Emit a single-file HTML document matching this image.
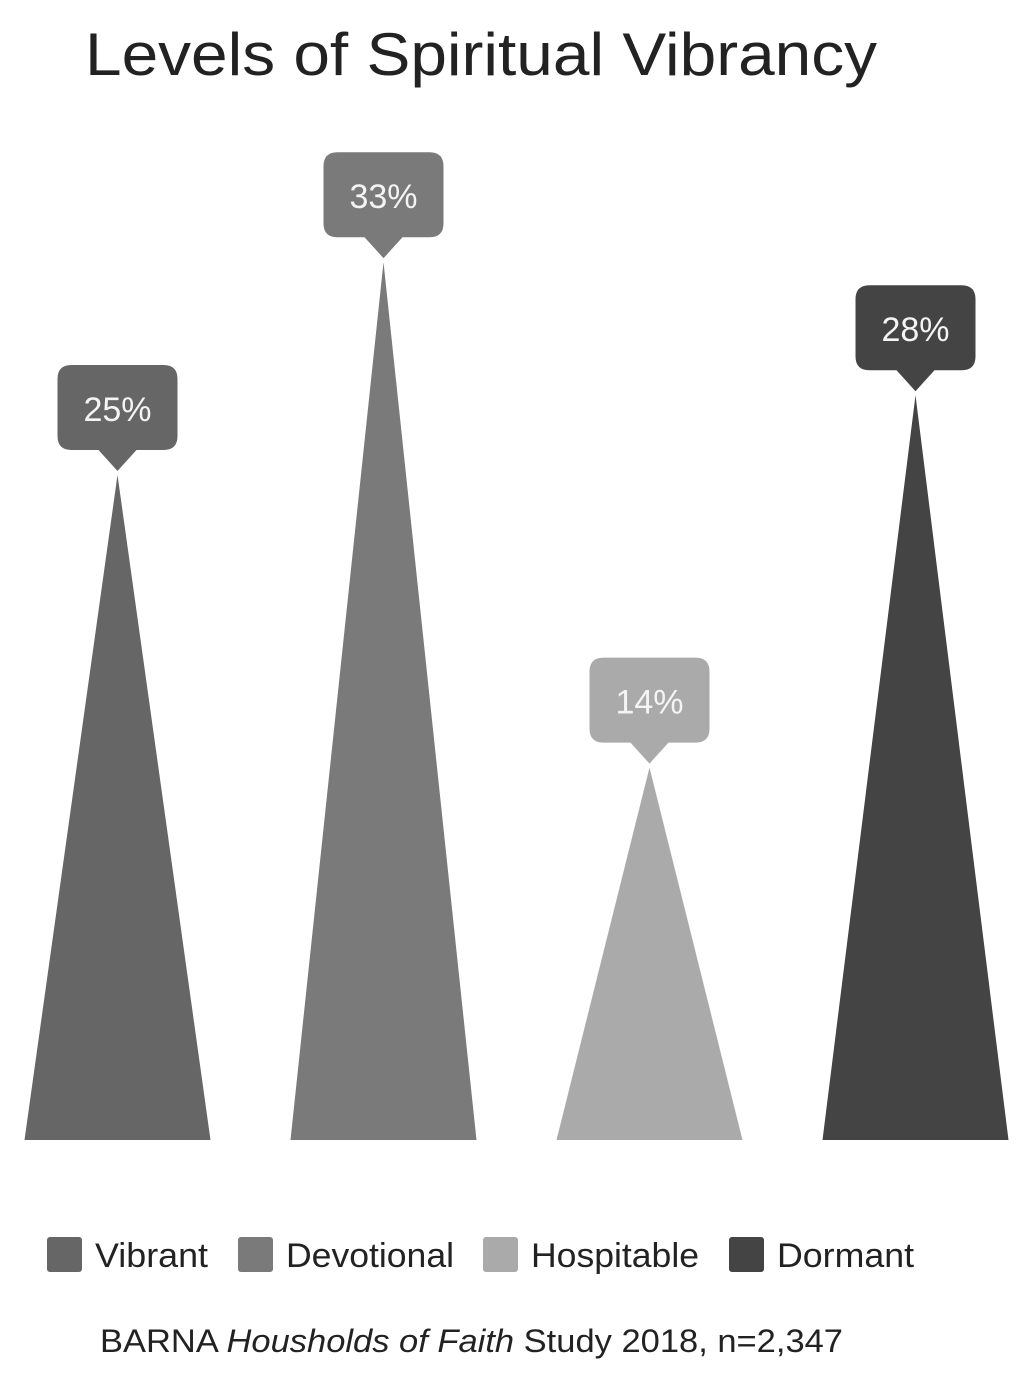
<!DOCTYPE html>
<html><head><meta charset="utf-8"><style>
html,body{margin:0;padding:0;background:#fff;}
svg{display:block;font-family:"Liberation Sans",sans-serif;}
</style></head><body>
<svg id="chart" width="1028" height="1382" viewBox="0 0 1028 1382">
<text x="85" y="75" font-size="60" fill="#222" textLength="792" lengthAdjust="spacingAndGlyphs">Levels of Spiritual Vibrancy</text>
<g id="marks"></g>
<g>
<rect x="47" y="1237" width="35" height="35" rx="3" fill="#666"/>
<text x="95" y="1267" font-size="34" fill="#222" textLength="113" lengthAdjust="spacingAndGlyphs">Vibrant</text>
<rect x="238" y="1237" width="35" height="35" rx="3" fill="#7a7a7a"/>
<text x="286" y="1267" font-size="34" fill="#222" textLength="168" lengthAdjust="spacingAndGlyphs">Devotional</text>
<rect x="483" y="1237" width="35" height="35" rx="3" fill="#aaa"/>
<text x="531" y="1267" font-size="34" fill="#222" textLength="168" lengthAdjust="spacingAndGlyphs">Hospitable</text>
<rect x="729" y="1237" width="35" height="35" rx="3" fill="#444"/>
<text x="777" y="1267" font-size="34" fill="#222" textLength="137" lengthAdjust="spacingAndGlyphs">Dormant</text>
</g>
<text x="100" y="1352" font-size="32" fill="#222" textLength="743" lengthAdjust="spacingAndGlyphs">BARNA <tspan font-style="italic">Housholds of Faith</tspan> Study 2018, n=2,347</text>
</svg>
<script>
const categories = ["Vibrant","Devotional","Hospitable","Dormant"];
const values = [25,33,14,28];
const colors = ["#666","#7a7a7a","#aaa","#444"];
const NS="http://www.w3.org/2000/svg";
const baseY=1140, pxPer=26.6;
function y(v){return baseY - v*pxPer;}
function xc(i){return 117.5 + i*266;}
const g=document.getElementById('marks');
categories.forEach((c,i)=>{
  const cx=xc(i), ay=y(values[i]), col=colors[i];
  const tri=document.createElementNS(NS,'polygon');
  tri.setAttribute('points',`${cx-93},${baseY} ${cx+93},${baseY} ${cx},${ay}`);
  tri.setAttribute('fill',col);
  
  
  g.appendChild(tri);
  const box=document.createElementNS(NS,'path');
  const t=ay-110, b=ay-25, l=cx-60, r=cx+60, rr=14;
  box.setAttribute('d',`M${l+rr},${t} H${r-rr} Q${r},${t} ${r},${t+rr} V${b-rr} Q${r},${b} ${r-rr},${b} H${cx+19} L${cx},${ay-4} L${cx-19},${b} H${l+rr} Q${l},${b} ${l},${b-rr} V${t+rr} Q${l},${t} ${l+rr},${t} Z`);
  box.setAttribute('fill',col);
  
  
  g.appendChild(box);
  const tx=document.createElementNS(NS,'text');
  tx.setAttribute('x',cx);tx.setAttribute('y',t+56);
  tx.setAttribute('text-anchor','middle');tx.setAttribute('font-size','34');
  tx.setAttribute('fill','#f4f4f4');
  tx.textContent=values[i]+'%';
  
  
  g.appendChild(tx);
});
</script>
</body></html>
